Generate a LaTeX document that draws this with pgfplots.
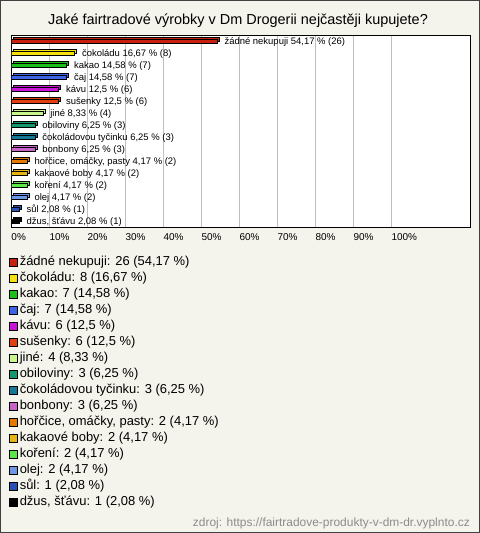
\documentclass[border=0pt]{standalone}
\usepackage{pgfplots}
\pgfplotsset{compat=1.18}
\usepackage{fontspec}
\setmainfont{Liberation Sans}
\definecolor{bgc}{HTML}{F4F3EC}
\definecolor{c1}{HTML}{C8200E}
\definecolor{c2}{HTML}{F5E010}
\definecolor{c3}{HTML}{18C018}
\definecolor{c4}{HTML}{3C64E6}
\definecolor{c5}{HTML}{C814D8}
\definecolor{c6}{HTML}{E04010}
\definecolor{c7}{HTML}{C8F58C}
\definecolor{c8}{HTML}{14966E}
\definecolor{c9}{HTML}{147896}
\definecolor{c10}{HTML}{C864C8}
\definecolor{c11}{HTML}{E67800}
\definecolor{c12}{HTML}{E6B414}
\definecolor{c13}{HTML}{5AE646}
\definecolor{c14}{HTML}{6E96E6}
\definecolor{c15}{HTML}{2850B4}
\definecolor{c16}{HTML}{000000}
\pgfplotsset{
  back/.style={fill=#1, draw=black, line width=0.8bp, xshift=2bp, yshift=2bp, forget plot},
  front/.style={fill=#1, draw=black, line width=0.8bp},
}
\begin{document}
\begin{tikzpicture}
\fill[bgc, draw=black!75, line width=1bp] (0.5bp,-0.5bp) rectangle (479.5bp,-532.5bp);
\useasboundingbox (0,0) rectangle (480bp,-533bp);
\node[font=\fontsize{14.5}{16}\selectfont] at (238bp,-21bp) {Jaké fairtradové výrobky v Dm Drogerii nejčastěji kupujete?};
\begin{axis}[
  at={(11.3bp,-35bp)}, anchor=north west,
  scale only axis, width=458.7bp, height=192bp,
  xmin=0, xmax=120.7,
  ymin=-0.55, ymax=15.45, y dir=reverse,
  axis background/.style={fill=white},
  axis line style={black, line width=1bp},
  xtick={0,10,...,100},
  /pgf/number format/assume math mode=true,
  xticklabel={\pgfmathprintnumber{\tick}\%},
  xticklabel style={anchor=north west, inner sep=0pt, yshift=-6bp, font=\fontsize{10}{12}\selectfont},
  ytick=\empty,
  major tick length=0pt,
  xmajorgrids, major grid style={black!25, line width=0.8bp},
  xbar, bar width=4bp, bar shift=0pt,
  point meta=explicit symbolic,
  nodes near coords,
  every node near coord/.append style={anchor=west, xshift=7bp, inner sep=0pt, font=\fontsize{9.5}{10}\selectfont, black},
  legend cell align=left,
  legend style={at={(0,0)}, anchor=north west, xshift=-2.3bp, yshift=-27bp,
    draw=none, fill=none, inner sep=0pt, row sep=0pt, column sep=2bp,
    font=\fontsize{13}{14}\selectfont,
    nodes={inner sep=0pt, text height=11bp, text depth=5bp}},
  legend image code/.code={\fill[#1, draw=black, line width=0.6bp] (0bp,-4bp) rectangle (8bp,4bp);},
]
\addplot[back=c1, nodes near coords={}] coordinates {(54.17,0)};
\addplot[front=c1] coordinates {(54.17,0) [žádné nekupuji 54,17 \% (26)]};
\addlegendentry{žádné nekupuji: 26 (54,17 \%)}
\addplot[back=c2, nodes near coords={}] coordinates {(16.67,1)};
\addplot[front=c2] coordinates {(16.67,1) [čokoládu 16,67 \% (8)]};
\addlegendentry{čokoládu: 8 (16,67 \%)}
\addplot[back=c3, nodes near coords={}] coordinates {(14.58,2)};
\addplot[front=c3] coordinates {(14.58,2) [kakao 14,58 \% (7)]};
\addlegendentry{kakao: 7 (14,58 \%)}
\addplot[back=c4, nodes near coords={}] coordinates {(14.58,3)};
\addplot[front=c4] coordinates {(14.58,3) [čaj 14,58 \% (7)]};
\addlegendentry{čaj: 7 (14,58 \%)}
\addplot[back=c5, nodes near coords={}] coordinates {(12.5,4)};
\addplot[front=c5] coordinates {(12.5,4) [kávu 12,5 \% (6)]};
\addlegendentry{kávu: 6 (12,5 \%)}
\addplot[back=c6, nodes near coords={}] coordinates {(12.5,5)};
\addplot[front=c6] coordinates {(12.5,5) [sušenky 12,5 \% (6)]};
\addlegendentry{sušenky: 6 (12,5 \%)}
\addplot[back=c7, nodes near coords={}] coordinates {(8.33,6)};
\addplot[front=c7] coordinates {(8.33,6) [jiné 8,33 \% (4)]};
\addlegendentry{jiné: 4 (8,33 \%)}
\addplot[back=c8, nodes near coords={}] coordinates {(6.25,7)};
\addplot[front=c8] coordinates {(6.25,7) [obiloviny 6,25 \% (3)]};
\addlegendentry{obiloviny: 3 (6,25 \%)}
\addplot[back=c9, nodes near coords={}] coordinates {(6.25,8)};
\addplot[front=c9] coordinates {(6.25,8) [čokoládovou tyčinku 6,25 \% (3)]};
\addlegendentry{čokoládovou tyčinku: 3 (6,25 \%)}
\addplot[back=c10, nodes near coords={}] coordinates {(6.25,9)};
\addplot[front=c10] coordinates {(6.25,9) [bonbony 6,25 \% (3)]};
\addlegendentry{bonbony: 3 (6,25 \%)}
\addplot[back=c11, nodes near coords={}] coordinates {(4.17,10)};
\addplot[front=c11] coordinates {(4.17,10) [hořčice, omáčky, pasty 4,17 \% (2)]};
\addlegendentry{hořčice, omáčky, pasty: 2 (4,17 \%)}
\addplot[back=c12, nodes near coords={}] coordinates {(4.17,11)};
\addplot[front=c12] coordinates {(4.17,11) [kakaové boby 4,17 \% (2)]};
\addlegendentry{kakaové boby: 2 (4,17 \%)}
\addplot[back=c13, nodes near coords={}] coordinates {(4.17,12)};
\addplot[front=c13] coordinates {(4.17,12) [koření 4,17 \% (2)]};
\addlegendentry{koření: 2 (4,17 \%)}
\addplot[back=c14, nodes near coords={}] coordinates {(4.17,13)};
\addplot[front=c14] coordinates {(4.17,13) [olej 4,17 \% (2)]};
\addlegendentry{olej: 2 (4,17 \%)}
\addplot[back=c15, nodes near coords={}] coordinates {(2.08,14)};
\addplot[front=c15] coordinates {(2.08,14) [sůl 2,08 \% (1)]};
\addlegendentry{sůl: 1 (2,08 \%)}
\addplot[back=c16, nodes near coords={}] coordinates {(2.08,15)};
\addplot[front=c16] coordinates {(2.08,15) [džus, šťávu 2,08 \% (1)]};
\addlegendentry{džus, šťávu: 1 (2,08 \%)}
\end{axis}
\node[anchor=base east, font=\fontsize{12}{13}\selectfont, text=black!45, inner sep=0pt] at (470bp,-526bp) {zdroj: https://fairtradove-produkty-v-dm-dr.vyplnto.cz};
\end{tikzpicture}
\end{document}
